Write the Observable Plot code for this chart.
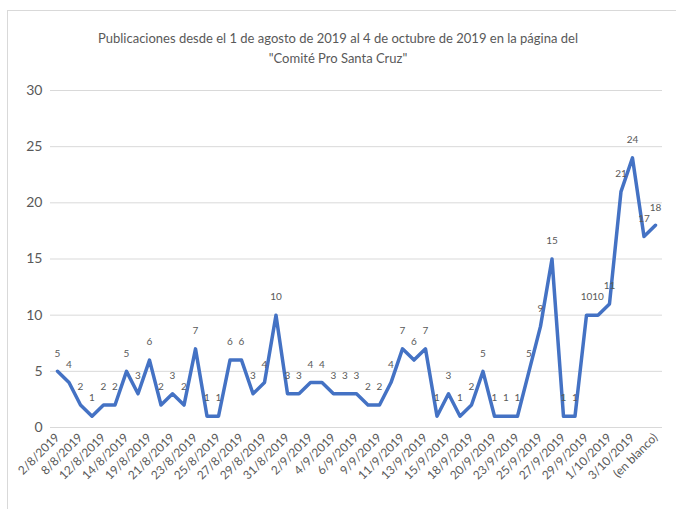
<!DOCTYPE html>
<html>
<head>
<meta charset="utf-8">
<script src="https://cdn.jsdelivr.net/npm/d3@7"></script>
<script src="https://cdn.jsdelivr.net/npm/@observablehq/plot@0.6"></script>
<style>
  body { margin: 0; background: #fff; font-family: Lato, "Open Sans", sans-serif; }
  #wrap { position: relative; width: 676px; height: 509px; overflow: hidden; }
  #frame { position: absolute; left: 7px; top: 10px; width: 700px; height: 520px; border: 1px solid #d9d9d9; box-sizing: border-box; pointer-events: none; }
  #title { height: 70px; box-sizing: border-box; padding-top: 28px; text-align: center; color: #595959; font-size: 13px; line-height: 20px; }
  #title div { white-space: nowrap; }
</style>
</head>
<body>
<div id="wrap">
  <div id="frame"></div>
  <div id="title">
    <div>Publicaciones desde el 1 de agosto de 2019 al 4 de octubre de 2019 en la página del</div>
    <div>"Comité Pro Santa Cruz"</div>
  </div>
  <div id="chart"></div>
</div>
<script>
const categories = [
  "2/8/2019","5/8/2019","8/8/2019","10/8/2019","12/8/2019","13/8/2019","14/8/2019","16/8/2019",
  "19/8/2019","20/8/2019","21/8/2019","22/8/2019","23/8/2019","24/8/2019","25/8/2019","26/8/2019",
  "27/8/2019","28/8/2019","29/8/2019","30/8/2019","31/8/2019","1/9/2019","2/9/2019","3/9/2019",
  "4/9/2019","5/9/2019","6/9/2019","7/9/2019","9/9/2019","10/9/2019","11/9/2019","12/9/2019",
  "13/9/2019","14/9/2019","15/9/2019","17/9/2019","18/9/2019","19/9/2019","20/9/2019","21/9/2019",
  "23/9/2019","24/9/2019","25/9/2019","26/9/2019","27/9/2019","28/9/2019","29/9/2019","30/9/2019",
  "1/10/2019","2/10/2019","3/10/2019","4/10/2019","(en blanco)"
];
const values = [
  5,4,2,1,2,2,5,3,6,2,3,2,7,1,1,6,6,3,4,10,3,3,4,4,3,3,3,2,2,4,7,6,7,1,3,1,2,5,1,1,1,5,9,15,1,1,10,10,11,21,24,17,18
];
const tickLabels = categories.filter((d, i) => i % 2 === 0);
const yTicks = [0, 5, 10, 15, 20, 25, 30];

const data = categories.map((c, i) => ({idx: i, cat: c, value: values[i]}));
const tickIdx = categories.map((c, i) => i).filter(i => tickLabels.includes(categories[i]));

const chart = Plot.plot({
  width: 676,
  height: 439,
  marginLeft: 50,
  marginRight: 14,
  marginTop: 20,
  marginBottom: 82,
  style: {fontFamily: "Lato, 'Open Sans', sans-serif", color: "#595959", background: "transparent"},
  x: {domain: [-0.61, categories.length - 1 + 0.61], label: null},
  y: {domain: [0, 30], label: null},
  marks: [
    Plot.ruleY(yTicks, {stroke: "#d9d9d9", strokeWidth: 1}),
    Plot.axisY({ticks: yTicks, tickSize: 0, tickPadding: 8, fontSize: 14, fill: "#595959", label: null}),
    Plot.axisX({ticks: tickIdx, tickFormat: i => categories[i], tickSize: 0, tickPadding: 8, tickRotate: -45, fontSize: 12, fill: "#595959", label: null}),
    Plot.line(data, {x: "idx", y: "value", stroke: "#4472C4", strokeWidth: 3.5, strokeLinejoin: "round"}),
    Plot.text(data, {x: "idx", y: "value", text: d => String(d.value), dy: -18, fontSize: 10, fill: "#595959"})
  ]
});
document.getElementById("chart").appendChild(chart);
</script>
</body>
</html>
